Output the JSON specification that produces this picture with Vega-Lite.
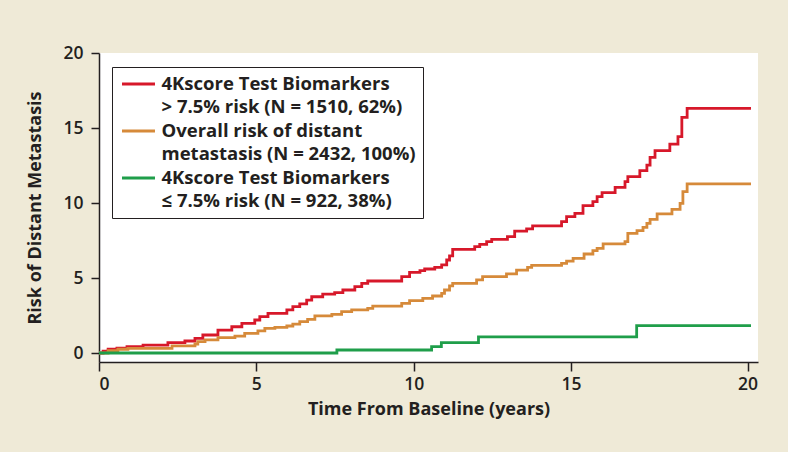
{
  "$schema": "https://vega.github.io/schema/vega-lite/v6.json",
  "autosize": {"type": "none"},
  "padding": {"left": 99, "top": 53, "right": 30, "bottom": 90},
  "width": 659,
  "height": 309,
  "background": "#efead7",
  "config": {
    "view": {"fill": "white", "stroke": null},
    "font": "Open Sans",
    "axis": {
      "domainColor": "#231f20", "domainWidth": 1.5,
      "tickColor": "#231f20", "tickWidth": 1.5, "tickSize": 8,
      "labelFont": "Open Sans", "labelFontSize": 17.5, "labelFontWeight": 600, "labelColor": "#231f20",
      "titleFont": "Open Sans", "titleFontSize": 18, "titleFontWeight": "bold", "titleColor": "#231f20",
      "grid": false
    }
  },
  "data": {
    "values": [
      {"series": "high", "t": 0, "risk": 0},
      {"series": "high", "t": 0.13, "risk": 0.13},
      {"series": "high", "t": 0.29, "risk": 0.25},
      {"series": "high", "t": 0.57, "risk": 0.33},
      {"series": "high", "t": 0.89, "risk": 0.42},
      {"series": "high", "t": 1.4, "risk": 0.53},
      {"series": "high", "t": 2.19, "risk": 0.69},
      {"series": "high", "t": 2.73, "risk": 0.8},
      {"series": "high", "t": 3.05, "risk": 0.98},
      {"series": "high", "t": 3.3, "risk": 1.2},
      {"series": "high", "t": 3.78, "risk": 1.53},
      {"series": "high", "t": 4.22, "risk": 1.75},
      {"series": "high", "t": 4.54, "risk": 1.98},
      {"series": "high", "t": 4.95, "risk": 2.2},
      {"series": "high", "t": 5.11, "risk": 2.42},
      {"series": "high", "t": 5.37, "risk": 2.64},
      {"series": "high", "t": 5.97, "risk": 2.87},
      {"series": "high", "t": 6.16, "risk": 3.09},
      {"series": "high", "t": 6.38, "risk": 3.27},
      {"series": "high", "t": 6.6, "risk": 3.53},
      {"series": "high", "t": 6.76, "risk": 3.75},
      {"series": "high", "t": 7.11, "risk": 3.93},
      {"series": "high", "t": 7.49, "risk": 4.02},
      {"series": "high", "t": 7.75, "risk": 4.2},
      {"series": "high", "t": 8.13, "risk": 4.42},
      {"series": "high", "t": 8.35, "risk": 4.64},
      {"series": "high", "t": 8.54, "risk": 4.8},
      {"series": "high", "t": 9.62, "risk": 5.09},
      {"series": "high", "t": 9.87, "risk": 5.38},
      {"series": "high", "t": 10.2, "risk": 5.49},
      {"series": "high", "t": 10.35, "risk": 5.6},
      {"series": "high", "t": 10.67, "risk": 5.71},
      {"series": "high", "t": 10.89, "risk": 5.87},
      {"series": "high", "t": 11.05, "risk": 6.2},
      {"series": "high", "t": 11.14, "risk": 6.47},
      {"series": "high", "t": 11.24, "risk": 6.91},
      {"series": "high", "t": 11.94, "risk": 7.09},
      {"series": "high", "t": 12.1, "risk": 7.24},
      {"series": "high", "t": 12.32, "risk": 7.42},
      {"series": "high", "t": 12.48, "risk": 7.58},
      {"series": "high", "t": 12.98, "risk": 7.76},
      {"series": "high", "t": 13.21, "risk": 8.13},
      {"series": "high", "t": 13.59, "risk": 8.27},
      {"series": "high", "t": 13.78, "risk": 8.47},
      {"series": "high", "t": 14.7, "risk": 8.76},
      {"series": "high", "t": 14.86, "risk": 9.09},
      {"series": "high", "t": 15.11, "risk": 9.31},
      {"series": "high", "t": 15.34, "risk": 9.82},
      {"series": "high", "t": 15.62, "risk": 10.09},
      {"series": "high", "t": 15.74, "risk": 10.42},
      {"series": "high", "t": 15.88, "risk": 10.69},
      {"series": "high", "t": 16.25, "risk": 11.04},
      {"series": "high", "t": 16.53, "risk": 11.42},
      {"series": "high", "t": 16.61, "risk": 11.76},
      {"series": "high", "t": 16.95, "risk": 12.16},
      {"series": "high", "t": 17.15, "risk": 12.53},
      {"series": "high", "t": 17.24, "risk": 13.04},
      {"series": "high", "t": 17.38, "risk": 13.49},
      {"series": "high", "t": 17.8, "risk": 13.93},
      {"series": "high", "t": 18.03, "risk": 14.42},
      {"series": "high", "t": 18.14, "risk": 15.71},
      {"series": "high", "t": 18.29, "risk": 16.31},
      {"series": "high", "t": 20.1, "risk": 16.31},
      {"series": "all", "t": 0, "risk": 0},
      {"series": "all", "t": 0.29, "risk": 0.15},
      {"series": "all", "t": 0.6, "risk": 0.25},
      {"series": "all", "t": 0.92, "risk": 0.31},
      {"series": "all", "t": 2.32, "risk": 0.47},
      {"series": "all", "t": 3.05, "risk": 0.6},
      {"series": "all", "t": 3.14, "risk": 0.76},
      {"series": "all", "t": 3.37, "risk": 0.87},
      {"series": "all", "t": 3.78, "risk": 1.02},
      {"series": "all", "t": 4.32, "risk": 1.13},
      {"series": "all", "t": 4.63, "risk": 1.31},
      {"series": "all", "t": 5.05, "risk": 1.47},
      {"series": "all", "t": 5.27, "risk": 1.64},
      {"series": "all", "t": 5.59, "risk": 1.71},
      {"series": "all", "t": 5.97, "risk": 1.8},
      {"series": "all", "t": 6.16, "risk": 1.93},
      {"series": "all", "t": 6.38, "risk": 2.09},
      {"series": "all", "t": 6.63, "risk": 2.24},
      {"series": "all", "t": 6.86, "risk": 2.47},
      {"series": "all", "t": 7.4, "risk": 2.58},
      {"series": "all", "t": 7.71, "risk": 2.76},
      {"series": "all", "t": 8.03, "risk": 2.87},
      {"series": "all", "t": 8.54, "risk": 2.98},
      {"series": "all", "t": 8.7, "risk": 3.13},
      {"series": "all", "t": 9.62, "risk": 3.31},
      {"series": "all", "t": 9.87, "risk": 3.49},
      {"series": "all", "t": 10.29, "risk": 3.64},
      {"series": "all", "t": 10.6, "risk": 3.8},
      {"series": "all", "t": 10.89, "risk": 3.98},
      {"series": "all", "t": 10.98, "risk": 4.2},
      {"series": "all", "t": 11.14, "risk": 4.47},
      {"series": "all", "t": 11.24, "risk": 4.64},
      {"series": "all", "t": 12.0, "risk": 4.87},
      {"series": "all", "t": 12.19, "risk": 5.09},
      {"series": "all", "t": 12.95, "risk": 5.27},
      {"series": "all", "t": 13.27, "risk": 5.53},
      {"series": "all", "t": 13.62, "risk": 5.71},
      {"series": "all", "t": 13.75, "risk": 5.84},
      {"series": "all", "t": 14.7, "risk": 5.98},
      {"series": "all", "t": 14.86, "risk": 6.13},
      {"series": "all", "t": 15.06, "risk": 6.31},
      {"series": "all", "t": 15.37, "risk": 6.6},
      {"series": "all", "t": 15.62, "risk": 6.82},
      {"series": "all", "t": 15.74, "risk": 6.98},
      {"series": "all", "t": 15.91, "risk": 7.27},
      {"series": "all", "t": 16.53, "risk": 7.42},
      {"series": "all", "t": 16.61, "risk": 7.98},
      {"series": "all", "t": 16.87, "risk": 8.16},
      {"series": "all", "t": 17.04, "risk": 8.38},
      {"series": "all", "t": 17.15, "risk": 8.64},
      {"series": "all", "t": 17.24, "risk": 8.91},
      {"series": "all", "t": 17.44, "risk": 9.27},
      {"series": "all", "t": 17.86, "risk": 9.58},
      {"series": "all", "t": 18.09, "risk": 9.98},
      {"series": "all", "t": 18.17, "risk": 10.76},
      {"series": "all", "t": 18.29, "risk": 11.27},
      {"series": "all", "t": 20.1, "risk": 11.27},
      {"series": "low", "t": 0, "risk": 0},
      {"series": "low", "t": 7.56, "risk": 0.2},
      {"series": "low", "t": 10.57, "risk": 0.42},
      {"series": "low", "t": 10.88, "risk": 0.69},
      {"series": "low", "t": 12.06, "risk": 1.07},
      {"series": "low", "t": 16.86, "risk": 1.82},
      {"series": "low", "t": 20.1, "risk": 1.82}
    ]
  },
  "mark": {"type": "line", "interpolate": "step-after", "strokeWidth": 2.8},
  "encoding": {
    "x": {
      "field": "t", "type": "quantitative",
      "scale": {"domain": [0, 15, 20, 20.3], "range": [0, 472, 648.5, 659], "nice": false, "zero": false},
      "axis": {"values": [0, 5, 10, 15, 20], "title": "Time From Baseline (years)", "labelPadding": 4, "titlePadding": 8, "tickSize": 9}
    },
    "y": {
      "field": "risk", "type": "quantitative",
      "scale": {"domain": [-0.6, 20], "nice": false, "zero": false},
      "axis": {"values": [0, 5, 10, 15, 20], "title": "Risk of Distant Metastasis", "labelPadding": 8, "titlePadding": 18}
    },
    "color": {
      "field": "series", "type": "nominal",
      "scale": {"domain": ["high", "all", "low"], "range": ["#d7182a", "#d68a3a", "#1f9e4a"]},
      "legend": {
        "orient": "none", "legendX": 13, "legendY": 14,
        "title": null,
        "padding": 7,
        "strokeColor": "#231f20", "fillColor": "white",
        "symbolType": "M-2,0L2,0",
        "symbolSize": 272, "symbolStrokeWidth": 3, "symbolOffset": 9.5,
        "labelOffset": 13, "rowPadding": 4,
        "labelFont": "Open Sans", "labelFontSize": 18.5, "labelFontWeight": "bold", "labelColor": "#231f20",
        "labelLimit": 400, "labelBaseline": "middle",
        "labelExpr": "datum.value == 'high' ? ['4Kscore Test Biomarkers', '> 7.5% risk (N = 1510, 62%)'] : datum.value == 'all' ? ['Overall risk of distant', 'metastasis (N = 2432, 100%)'] : ['4Kscore Test Biomarkers', '≤ 7.5% risk (N = 922, 38%)']",
        "encode": {"labels": {"update": {"lineHeight": {"value": 23}}}}
      }
    }
  }
}
